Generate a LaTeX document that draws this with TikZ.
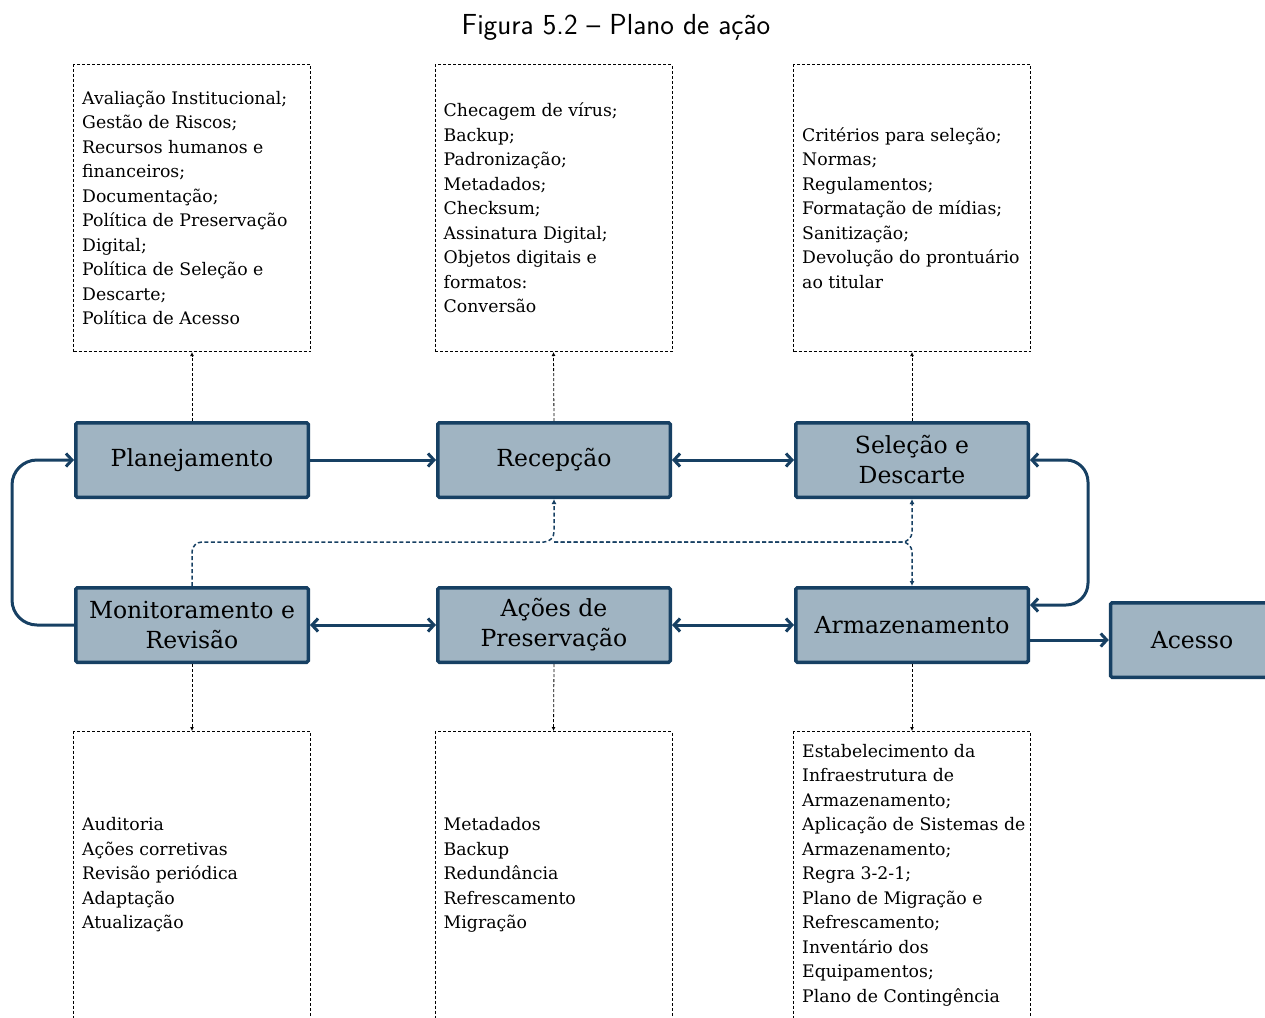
\documentclass[tikz,border=0pt]{standalone}
\usepackage{fontspec}
\setmainfont{DejaVu Serif}
\usetikzlibrary{arrows.meta,calc}
\definecolor{navy}{RGB}{23,64,99}
\definecolor{steel}{RGB}{160,180,194}
\tikzset{
  stagebox/.style={draw=navy, fill=steel, line width=3.5pt, rounded corners=1.5pt,
    minimum width=232.5pt, minimum height=74.5pt, inner sep=0pt, align=center,
    font=\fontsize{23.5}{30}\selectfont},
  notebox/.style={draw=black, line width=1pt, dash pattern=on 3pt off 2pt,
    minimum width=237pt, minimum height=287pt, inner sep=0pt},
  notetext/.style={anchor=west, align=left, inner sep=0pt,
    font=\fontsize{17.3}{24.5}\selectfont},
  flow/.style={draw=navy, line width=3pt, -{Straight Barb[length=6pt,width=13pt]}},
  flowboth/.style={draw=navy, line width=3pt,
    {Straight Barb[length=6pt,width=13pt]}-{Straight Barb[length=6pt,width=13pt]}},
  link/.style={draw=black, line width=0.8pt, dash pattern=on 3pt off 2pt,
    -{Latex[length=4pt,width=4pt]}},
  feedback/.style={draw=navy, line width=1.5pt, dash pattern=on 4pt off 2.5pt,
    rounded corners=10pt, -{Latex[length=5pt,width=5pt]}}
}
\begin{document}
\begin{tikzpicture}[x=1pt,y=-1pt]
\useasboundingbox (0,0) rectangle (1265,1017);

% title
\node (title) at (616,27) {\sffamily\fontsize{29}{34}\selectfont Figura 5.2 \textendash{} Plano de ação};

% stages
\node[stagebox] (plan) at (192,460) {Planejamento};
\node[stagebox] (rec)  at (554,460) {Recepção};
\node[stagebox] (sel)  at (912,460) {Seleção e\\Descarte};
\node[stagebox] (mon)  at (192,625) {Monitoramento e\\Revisão};
\node[stagebox] (aco)  at (554,625) {Ações de\\Preservação};
\node[stagebox] (arm)  at (912,625) {Armazenamento};
\node[stagebox, minimum width=163pt] (acc) at (1192,640) {Acesso};

% note boxes above
\node[notebox] (n1) at (192,208) {};
\node[notebox] (n2) at (553.5,208) {};
\node[notebox] (n3) at (912,208) {};
% note boxes below
\node[notebox] (b1) at (192,875) {};
\node[notebox] (b2) at (553.5,875) {};
\node[notebox] (b3) at (912,875) {};

\node[notetext] (t1) at ($(n1.west)+(9,0)$) {Avaliação Institucional;\\Gestão de Riscos;\\Recursos humanos e\\financeiros;\\Documentação;\\Política de Preservação\\Digital;\\Política de Seleção e\\Descarte;\\Política de Acesso};
\node[notetext] (t2) at ($(n2.west)+(9,0)$) {Checagem de vírus;\\Backup;\\Padronização;\\Metadados;\\Checksum;\\Assinatura Digital;\\Objetos digitais e\\formatos:\\Conversão};
\node[notetext] (t3) at ($(n3.west)+(9,0)$) {Critérios para seleção;\\Normas;\\Regulamentos;\\Formatação de mídias;\\Sanitização;\\Devolução do prontuário\\ao titular};
\node[notetext] (u1) at ($(b1.west)+(9,0)$) {Auditoria\\Ações corretivas\\Revisão periódica\\Adaptação\\Atualização};
\node[notetext] (u2) at ($(b2.west)+(9,0)$) {Metadados\\Backup\\Redundância\\Refrescamento\\Migração};
\node[notetext] (u3) at ($(b3.west)+(9,0)$) {Estabelecimento da\\Infraestrutura de\\Armazenamento;\\Aplicação de Sistemas de\\Armazenamento;\\Regra 3-2-1;\\Plano de Migração e\\Refrescamento;\\Inventário dos\\Equipamentos;\\Plano de Contingência};

% links from stages to their notes
\draw[link] (plan.north) -- (n1.south);
\draw[link] (rec.north) -- (n2.south);
\draw[link] (sel.north) -- (n3.south);
\draw[link] (mon.south) -- (b1.north);
\draw[link] (aco.south) -- (b2.north);
\draw[link] (arm.south) -- (b3.north);

% main flow
\draw[flow] (plan) -- (rec);
\draw[flowboth] (rec) -- (sel);
\draw[flowboth] (mon) -- (aco);
\draw[flowboth] (aco) -- (arm);
\draw[flow] (arm.east |- acc.west) -- (acc.west);
\draw[flow, rounded corners=25pt] (mon.west) -- (12,625) -- (12,460) -- (plan.west);
\draw[flowboth, rounded corners=22pt] (sel.east) -- (1088,460) -- (1088,605) -- ($(arm.east)+(0,-20)$);

% feedback from monitoring
\coordinate (jx) at (554,542);
\draw[feedback] (mon.north) -- (mon.north |- jx) -- (jx) -- (rec.south);
\draw[feedback] (jx) -| (sel.south);
\draw[feedback] (jx) -| (arm.north);
\end{tikzpicture}
\end{document}
